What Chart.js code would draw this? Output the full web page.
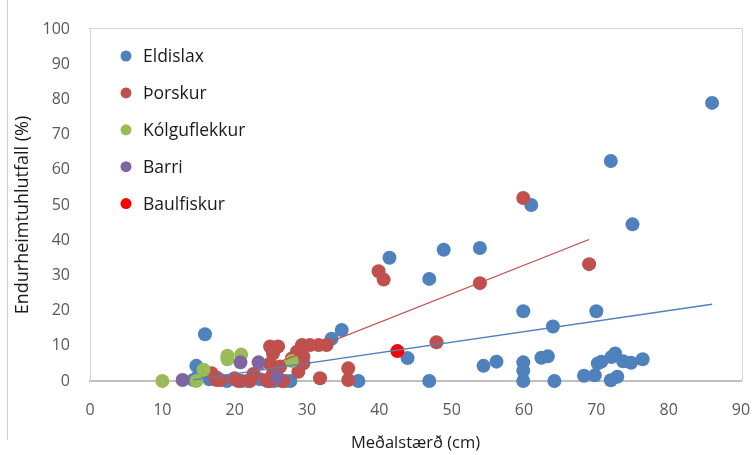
<!DOCTYPE html>
<html>
<head>
<meta charset="utf-8">
<script src="https://cdn.jsdelivr.net/npm/chart.js@4/dist/chart.umd.min.js"></script>
<style>
html,body{margin:0;padding:0;background:#fff;}
#wrap{width:756px;height:455px;}
</style>
</head>
<body>
<div id="wrap"><canvas id="c" width="756" height="455"></canvas></div>
<script>
// ---- data ----
const seriesNames = ["Eldislax", "Þorskur", "Kólguflekkur", "Barri", "Baulfiskur"];

const eldislaxX = [14.3,14.7,15,15.9,16.5,17.5,18.9,20,21,21.9,23.5,24.5,25.5,26.5,27,27.7,33.4,34.8,37.1,41.4,43.9,46.9,46.9,48.9,53.9,54.4,56.2,59.9,59.9,59.9,59.9,61,62.4,63.3,64,64.2,68.3,69.8,70,70.2,70.7,72,72.1,72.6,72,72.9,73.7,74.8,75,76.4,86];
const eldislaxY = [0.3,4.3,1.5,13.3,0.5,1,0,0.5,0,0,0.5,0,0,0,0,0,12,14.5,0,35,6.5,29,0,37.3,37.8,4.3,5.5,19.8,5.3,2.9,0,50,6.6,7,15.5,0,1.5,1.6,19.8,5,5.5,62.5,6.8,7.8,0.2,1.2,5.6,5.2,44.5,6.2,79];

const thorskurX = [16.8,17.5,18,20,20.5,22.1,22.6,24.4,24.9,26,25.3,24.9,26.3,25.3,24.9,26.7,27.9,28.6,29.3,30.4,31.6,32.7,29.5,28.6,29.5,28.8,31.8,35.7,35.7,39.9,40.6,47.9,53.9,59.9,69];
const thorskurY = [2.2,0.3,0.3,0.8,0,0,2,0.3,9.8,9.8,7.8,5,4.1,2.2,0,0,6.4,8.3,10.2,10.2,10.2,10.2,6.9,5,5,2.6,0.8,3.6,0.3,31.2,28.8,11,27.8,52,33.2];

const kolguX = [10,14.7,15.7,19,19,20.9,27.9];
const kolguY = [0,0,3.2,7.2,6.2,7.5,5.7];

const barriX = [12.8,20.8,23.3,25.9];
const barriY = [0.3,5.3,5.3,1.2];

const baulX = [42.5];
const baulY = [8.5];

// linear trendline end points
const eldislaxTrendX = [14.3, 86];
const eldislaxTrendY = [0.3, 21.8];
const thorskurTrendX = [16.8, 69];
const thorskurTrendY = [-2.2, 40.2];

const xTicks = [0,10,20,30,40,50,60,70,80,90];
const yTicks = [0,10,20,30,40,50,60,70,80,90,100];

const colors = ["#4F81BD", "#C0504D", "#9BBB59", "#8064A2", "#FF0000"];
// ---------------------------------------

function pts(xs, ys){ return xs.map((x,i)=>({x:x, y:ys[i]})); }

const FONT = "'Open Sans', 'Liberation Sans', sans-serif";
const Y_TITLE = 'Endurheimtuhlutfall (%)';

const scatterSets = [
  [eldislaxX, eldislaxY],
  [thorskurX, thorskurY],
  [kolguX, kolguY],
  [barriX, barriY],
  [baulX, baulY]
].map((s, i) => ({
  type: 'scatter',
  label: seriesNames[i],
  data: pts(s[0], s[1]),
  backgroundColor: colors[i],
  borderColor: colors[i],
  borderWidth: 0,
  pointRadius: 7,
  pointHoverRadius: 7,
  clip: false,
  order: 10 - i
}));

const trendSets = [
  {type:'line', label:'_t1', data: pts(eldislaxTrendX, eldislaxTrendY), borderColor: colors[0], borderWidth: 1.3, pointRadius: 0, fill:false, showLine:true, order: 0},
  {type:'line', label:'_t2', data: pts(thorskurTrendX, thorskurTrendY), borderColor: colors[1], borderWidth: 1.3, pointRadius: 0, fill:false, showLine:true, order: 0}
];

const framePlugin = {
  id: 'frame',
  beforeDraw(chart){
    const ctx = chart.ctx;
    ctx.save();
    // outer left frame line
    ctx.strokeStyle = '#D0D0D0';
    ctx.lineWidth = 1;
    ctx.beginPath(); ctx.moveTo(7.5, 0); ctx.lineTo(7.5, 440); ctx.stroke();
    // y axis title
    ctx.translate(23, 215);
    ctx.rotate(-Math.PI / 2);
    ctx.font = "18px " + FONT;
    ctx.fillStyle = '#1a1a1a';
    ctx.textAlign = 'center';
    ctx.textBaseline = 'middle';
    ctx.fillText(Y_TITLE, 0, 0);
    ctx.restore();
  },
  afterDraw(chart){
    const a = chart.chartArea, ctx = chart.ctx;
    ctx.save();
    // plot border: top and right edges
    ctx.strokeStyle = '#D4D4D4';
    ctx.lineWidth = 1;
    ctx.beginPath();
    ctx.moveTo(a.left - 1, a.top - 0.5);
    ctx.lineTo(a.right + 1.5, a.top - 0.5);
    ctx.lineTo(a.right + 1.5, a.bottom);
    ctx.stroke();
    // legend
    ctx.font = "17.5px " + FONT;
    ctx.textBaseline = 'middle';
    ctx.textAlign = 'left';
    seriesNames.forEach((name, i) => {
      const y = 56 + i * 36.9;
      ctx.fillStyle = colors[i];
      ctx.beginPath(); ctx.arc(126, y, 5.5, 0, Math.PI * 2); ctx.fill();
      ctx.fillStyle = '#1a1a1a';
      ctx.fillText(name, 143, y + 1);
    });
    ctx.restore();
  }
};

new Chart(document.getElementById('c'), {
  data: { datasets: scatterSets.concat(trendSets) },
  options: {
    responsive: false,
    animation: false,
    layout: { autoPadding: false, padding: { left: 0, right: 15, top: 29, bottom: 0 } },
    plugins: { legend: { display: false }, tooltip: { enabled: false } },
    scales: {
      x: {
        type: 'linear', min: 0, max: 90,
        afterBuildTicks(s){ s.ticks = xTicks.map(v => ({value: v})); },
        afterFit(s){ s.height = 74; s.paddingLeft = 0; s.paddingRight = 0; },
        grid: { display: false, drawTicks: false, tickLength: 0 },
        border: { display: true, color: '#BFBFBF', width: 2 },
        ticks: { color: '#595959', font: { family: FONT, size: 16 }, padding: 20 },
        title: { display: true, text: 'Meðalstærð (cm)', color: '#1a1a1a', font: { family: FONT, size: 16.5 }, padding: { top: 0, bottom: 2 } }
      },
      y: {
        type: 'linear', min: 0, max: 100,
        afterBuildTicks(s){ s.ticks = yTicks.map(v => ({value: v})); },
        afterFit(s){ s.width = 90; s.paddingTop = 0; s.paddingBottom = 0; },
        grid: { display: false, drawTicks: false, tickLength: 0 },
        border: { display: true, color: '#D4D4D4', width: 1 },
        ticks: { color: '#595959', font: { family: FONT, size: 16 }, padding: 20 },
        title: { display: false }
      }
    }
  },
  plugins: [framePlugin]
});
</script>
</body>
</html>
